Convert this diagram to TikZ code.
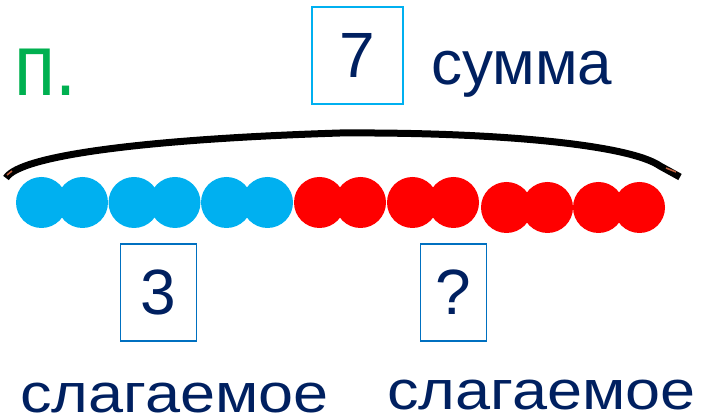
\documentclass[tikz,border=0pt]{standalone}
\usepackage{fontspec}
\usepackage{graphicx}
\setmainfont{Liberation Sans}
\definecolor{navy}{RGB}{0,32,96}
\definecolor{skyblue}{RGB}{0,176,240}
\definecolor{boxblue}{RGB}{0,112,192}
\definecolor{pgreen}{RGB}{0,176,80}
\definecolor{endbrown}{RGB}{190,95,60}
\tikzset{
  numbox/.style={draw, line width=1.5pt, text=navy, inner sep=0pt,
    font=\fontsize{64}{64}\selectfont},
  word/.style={text=navy, anchor=base west, inner sep=0pt,
    font=\fontsize{62}{62}\selectfont},
}
\newcommand{\lowword}[1]{\fontsize{63}{63}\selectfont\scalebox{1}[0.87]{#1}}
\begin{document}
\begin{tikzpicture}[x=1pt,y=-1pt]
            \useasboundingbox (0,0) rectangle (702,419);

            % Brace over the beads
            \draw[line width=7pt] (6,178) .. controls (20,155) and (150,139) .. (340,133)
                .. controls (500,132) and (630,145) .. (660,166) -- (680,177);
            \draw[endbrown, line width=1.5pt] (7,175) -- (12,171);
            \draw[endbrown, line width=1.5pt] (666,168) -- (676,172);

            % Beads
            \foreach \s/\y/\c in {16/202.5/skyblue, 108.5/202.5/skyblue, 201/202.5/skyblue,
                                 294/202.5/red, 387/202.5/red, 481/207.5/red, 573/207.5/red} {
                    \fill[\c] (\s+25.5,\y) circle (25.5);
                    \fill[\c] (\s+66.5,\y) circle (25.5);
                }

            % Labels
            \node[text=pgreen, anchor=base west, inner sep=0pt, font=\fontsize{88}{88}\selectfont]
                (point) at (14,96) {\scalebox{0.86}[1]{п.}};
            \node[numbox, draw=skyblue, minimum width=91, minimum height=97] (total) at (357.5,55.5) {7};
            \node[word] (sum) at (431,85) {сумма};
            \node[numbox, draw=boxblue, minimum width=76, minimum height=97] (first) at (158.7,292.5) {3};
            \node[numbox, draw=boxblue, minimum width=66, minimum height=97] (second) at (453.7,292.5) {?};
            \node[word] (addA) at (20,413) {\lowword{слагаемое}};
            \node[word] (addB) at (387,410) {\lowword{слагаемое}};
        \end{tikzpicture}
\end{document}
